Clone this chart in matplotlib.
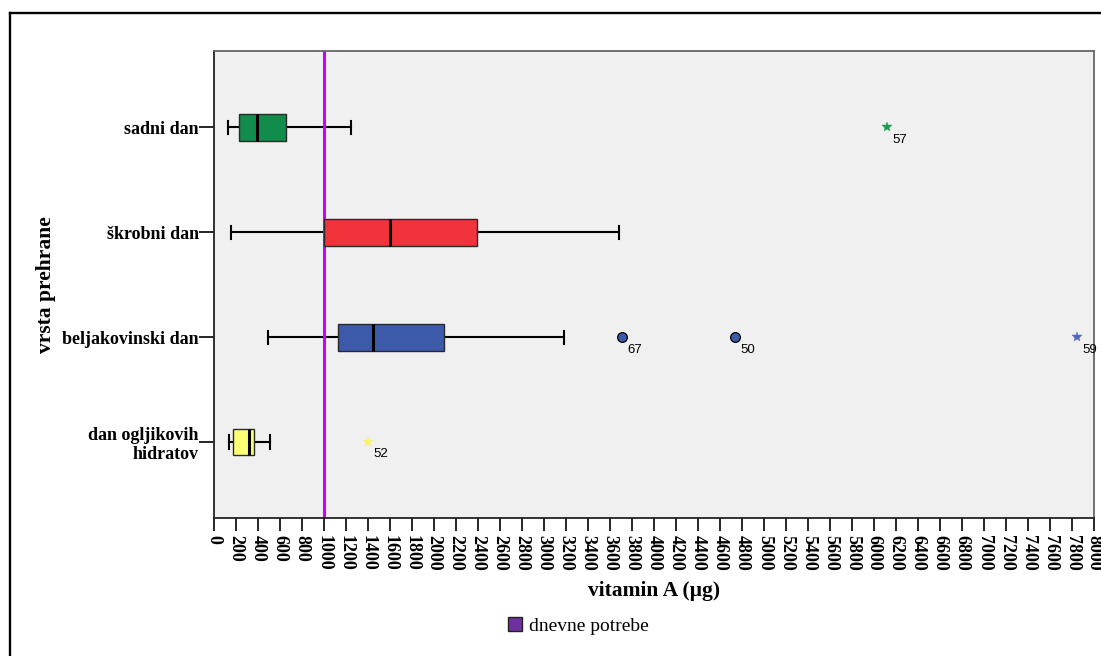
import matplotlib
matplotlib.use("Agg")
import matplotlib.pyplot as plt
from matplotlib.lines import Line2D
from matplotlib.patches import Patch

plt.rcParams['font.family'] = ['Liberation Serif', 'DejaVu Serif']

# Box plot values (vitamin A, µg)
categories = ['sadni dan', 'škrobni dan', 'beljakovinski dan', 'dan ogljikovih\nhidratov']
whislo = [127, 152, 493, 136]
q1 = [227, 995, 1127, 175]
med = [393, 1600, 1445, 315]
q3 = [652, 2387, 2090, 361]
whishi = [1245, 3681, 3183, 512]
box_colors = ['#118C4A', '#F1333B', '#3D5AAA', '#FFFF73']

# outliers: category index, value, case number, kind
out_cat = [0, 2, 2, 2, 3]
out_val = [6113, 3705, 4737, 7845, 1397]
out_id = ['57', '67', '50', '59', '52']
out_kind = ['extreme', 'outlier', 'outlier', 'extreme', 'extreme']
star_colors = ['#1E9A50', None, None, '#5068C0', '#F5F56A']

daily_need = 1000
xticks = list(range(0, 8001, 200))

fig = plt.figure(figsize=(11.01, 6.56), dpi=100)
ax = fig.add_axes([0.1944, 0.2104, 0.7995, 0.7111])
ax.set_facecolor('#F0F0F0')

stats = []
for i, name in enumerate(categories):
    stats.append({'label': name, 'whislo': whislo[i], 'q1': q1[i], 'med': med[i],
                  'q3': q3[i], 'whishi': whishi[i], 'fliers': []})

bp = ax.bxp(stats, positions=range(len(categories)), orientation='horizontal',
            widths=0.255, patch_artist=True, showfliers=False,
            boxprops=dict(edgecolor='#2a2a2a', linewidth=1.0),
            medianprops=dict(color='black', linewidth=2.2),
            whiskerprops=dict(color='black', linewidth=1.5),
            capprops=dict(color='black', linewidth=1.5),
            capwidths=0.125)
for patch, c in zip(bp['boxes'], box_colors):
    patch.set_facecolor(c)
    patch.set_zorder(3)
for m in bp['medians']:
    m.set_zorder(4)

ax.axvline(daily_need, color='#CC00FF', linewidth=2.2, zorder=2)

for i in range(len(out_val)):
    y = out_cat[i]
    if out_kind[i] == 'outlier':
        ax.plot(out_val[i], y, marker='o', markersize=7, markerfacecolor=box_colors[y],
                markeredgecolor='black', markeredgewidth=0.9, linestyle='none', zorder=5)
    else:
        ax.plot(out_val[i], y, marker='*', markersize=7, color=star_colors[i],
                markeredgewidth=0.3, linestyle='none', zorder=5)
    ax.annotate(out_id[i], (out_val[i], y), xytext=(4, -9), textcoords='offset points',
                ha='left', va='center', fontsize=9.5, family='Liberation Sans')

ax.set_xlim(0, 8000)
ax.set_ylim(3.725, -0.725)
ax.set_xticks(xticks)
ax.set_xticklabels([str(v) for v in xticks], rotation=-90, fontsize=13, fontweight='bold')
ax.set_yticks(range(len(categories)))
ax.set_yticklabels(categories, fontsize=13, fontweight='bold', linespacing=1.15)
ax.tick_params(axis='x', length=9, width=1.2, pad=3)
ax.tick_params(axis='y', length=11, width=1.2, pad=0)

for side in ['left', 'bottom']:
    ax.spines[side].set_color('#222222')
    ax.spines[side].set_linewidth(1.3)
for side in ['top', 'right']:
    ax.spines[side].set_color('#666666')
    ax.spines[side].set_linewidth(1.3)

ax.set_xlabel('vitamin A (µg)', fontsize=15.5, fontweight='bold')
ax.xaxis.set_label_coords(0.5, -0.156)
ax.xaxis.label.set_va('center')
ax.set_ylabel('vrsta prehrane', fontsize=15.5, fontweight='bold')
ax.yaxis.set_label_coords(-0.191, 0.5)
ax.yaxis.label.set_va('center')

fig.legend(handles=[Patch(facecolor='#7030A0', edgecolor='#222222', label='dnevne potrebe')],
           loc='center', bbox_to_anchor=(0.5254, 0.0457), frameon=False, fontsize=14,
           handlelength=0.72, handleheight=0.72, handletextpad=0.4)

# outer frame (top and left)
fig.add_artist(Line2D([10 / 1101, 1], [1 - 12.5 / 656, 1 - 12.5 / 656], color='black', linewidth=1.7))
fig.add_artist(Line2D([10 / 1101, 10 / 1101], [0, 1 - 12.5 / 656], color='black', linewidth=1.7))

fig.savefig('out.png', dpi=100)
